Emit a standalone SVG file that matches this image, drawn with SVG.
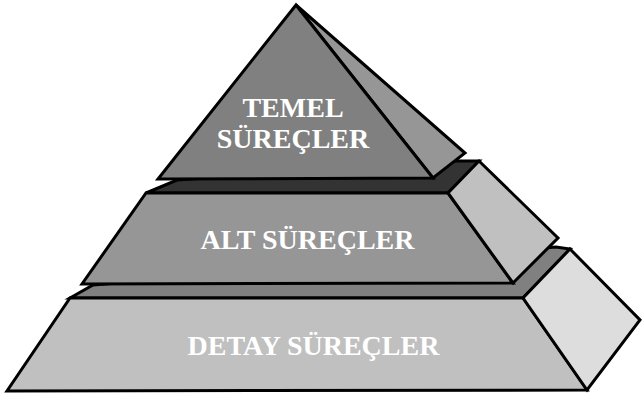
<svg xmlns="http://www.w3.org/2000/svg" width="642" height="396" viewBox="0 0 642 396">
<style>
.s{stroke:#000;stroke-width:3;stroke-linejoin:miter}
.t{font-family:"Liberation Serif","Times New Roman",serif;font-weight:bold;font-size:28px;fill:#fff;text-anchor:middle}
</style>
<rect width="642" height="396" fill="#fff"/>
<g id="detay">
<polygon class="s" fill="#808080" points="70,298 93,285 556,247 570,249 523,298"/>
<polygon class="s" fill="#c0c0c0" points="70,298 523,298 587,390 7,391"/>
<polygon class="s" fill="#dddddd" points="570,249 640,320 587,390 523,298"/>
<text class="t" x="313.5" y="355">DETAY SÜREÇLER</text>
</g>
<g id="alt">
<polygon class="s" fill="#333333" points="146,193 177,180 458,161 479,161 448,193"/>
<polygon class="s" fill="#969696" points="146,193 448,193 513,283 82,284"/>
<polygon class="s" fill="#c0c0c0" points="479,161 558,238 513,283 448,193"/>
<text class="t" x="307.5" y="249">ALT SÜREÇLER</text>
</g>
<g id="temel">
<polygon class="s" fill="#969696" points="296,5 465,153 433,178"/>
<polygon class="s" fill="#808080" points="296,5 433,178 158,179"/>
<text class="t" x="293" y="117">TEMEL</text>
<text class="t" x="293" y="148">SÜREÇLER</text>
</g>
<g id="connectors"/>
</svg>
